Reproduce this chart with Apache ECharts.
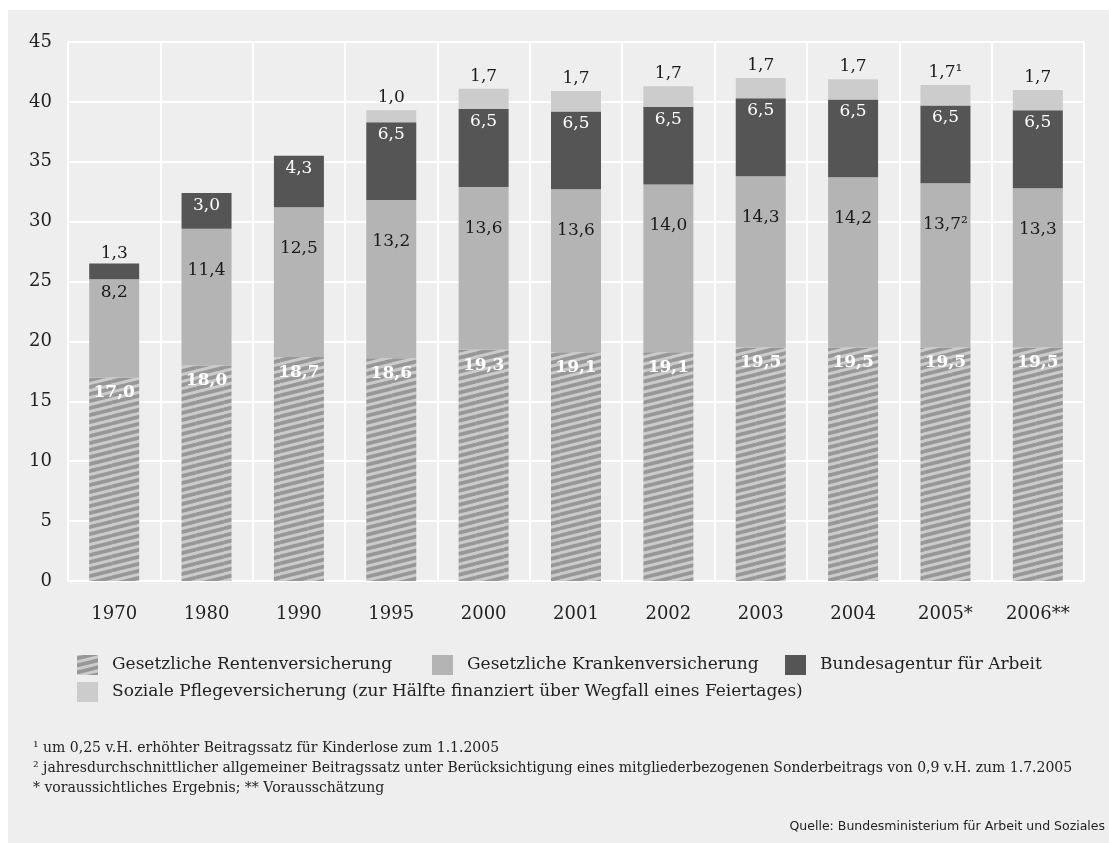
<!DOCTYPE html>
<html>
<head>
<meta charset="utf-8">
<script src="https://cdn.jsdelivr.net/npm/echarts@6/dist/echarts.min.js"></script>
<style>
html,body{margin:0;padding:0;background:#fff;}
#chart{width:1109px;height:843px;}
</style>
</head>
<body>
<div id="chart"></div>
<script>
const categories = ['1970','1980','1990','1995','2000','2001','2002','2003','2004','2005*','2006**'];
const renten  = [17.0, 18.0, 18.7, 18.6, 19.3, 19.1, 19.1, 19.5, 19.5, 19.5, 19.5];
const kranken = [8.2, 11.4, 12.5, 13.2, 13.6, 13.6, 14.0, 14.3, 14.2, 13.7, 13.3];
const arbeit  = [1.3, 3.0, 4.3, 6.5, 6.5, 6.5, 6.5, 6.5, 6.5, 6.5, 6.5];
const pflege  = [null, null, null, 1.0, 1.7, 1.7, 1.7, 1.7, 1.7, 1.7, 1.7];
const krankenNotes = ['', '', '', '', '', '', '', '', '', '²', ''];
const pflegeNotes  = ['', '', '', '', '', '', '', '', '', '¹', ''];
const seriesNames = [
  'Gesetzliche Rentenversicherung',
  'Gesetzliche Krankenversicherung',
  'Bundesagentur für Arbeit',
  'Soziale Pflegeversicherung (zur Hälfte finanziert über Wegfall eines Feiertages)'
];
const footnotes = [
  '¹ um 0,25 v.H. erhöhter Beitragssatz für Kinderlose zum 1.1.2005',
  '² jahresdurchschnittlicher allgemeiner Beitragssatz unter Berücksichtigung eines mitgliederbezogenen Sonderbeitrags von 0,9 v.H. zum 1.7.2005',
  '* voraussichtliches Ergebnis; ** Vorausschätzung'
];
const sourceText = 'Quelle: Bundesministerium für Arbeit und Soziales';

function fmt(v){ return v.toFixed(1).replace('.', ','); }

// hatch pattern
const pc = document.createElement('canvas');
pc.width = 28; pc.height = 7;
const g = pc.getContext('2d');
g.fillStyle = '#cbcbcb';
g.fillRect(0,0,28,7);
g.strokeStyle = '#979797';
g.lineWidth = 3.8;
for (let k = -2; k <= 3; k++) {
  g.beginPath();
  g.moveTo(0, k*7 + 3.5);
  g.lineTo(28, k*7 - 3.5);
  g.stroke();
}
const hatch = {image: pc, repeat: 'repeat'};

const serif = 'DejaVu Serif';
const chart = echarts.init(document.getElementById('chart'));

const common = {type:'bar', stack:'total', barWidth:50};

chart.setOption({
  backgroundColor:'#ffffff',
  animation:false,
  graphic:[
    {type:'rect', left:8, top:10, shape:{width:1101, height:833}, style:{fill:'#eeeeee'}, z:-10},
    {type:'text', left:33, top:741, style:{text:footnotes[0], font:'14px "DejaVu Serif"', fill:'#222'}},
    {type:'text', left:33, top:761, style:{text:footnotes[1], font:'14px "DejaVu Serif"', fill:'#222'}},
    {type:'text', left:33, top:781, style:{text:footnotes[2], font:'14px "DejaVu Serif"', fill:'#222'}},
    {type:'text', right:4, top:820, style:{text:sourceText, font:'12.5px "DejaVu Sans"', fill:'#222'}}
  ],
  grid:{left:68, right:25, top:42, bottom:262},
  legend:[0,1,2,3].map(i => ({
    data:[seriesNames[i]],
    left:[77,432,785,77][i],
    top:[655,655,655,682][i],
    padding:0,
    itemWidth:21, itemHeight:20, itemGap:14,
    icon:'rect',
    textStyle:{fontFamily:serif, fontSize:17, color:'#222', padding:[0,0,0,9]},
    selectedMode:false
  })),
  xAxis:{
    type:'category', data:categories,
    axisLine:{show:true, lineStyle:{color:'#ffffff', width:2}},
    axisTick:{show:false},
    splitLine:{show:true, lineStyle:{color:'#ffffff', width:2}},
    axisLabel:{fontFamily:serif, fontSize:18, color:'#222', margin:24}
  },
  yAxis:{
    type:'value', min:0, max:45, interval:5,
    axisLine:{show:false}, axisTick:{show:false},
    splitLine:{lineStyle:{color:'#ffffff', width:2}},
    axisLabel:{fontFamily:serif, fontSize:18, color:'#222', margin:16}
  },
  series:[
    Object.assign({}, common, {
      name:seriesNames[0], data:renten,
      itemStyle:{color:hatch},
      label:{show:true, position:'insideTop', distance:7, color:'#ffffff', fontFamily:serif, fontSize:17, fontWeight:'bold',
        formatter:p => fmt(p.value)}
    }),
    Object.assign({}, common, {
      name:seriesNames[1],
      data:kranken.map(v => v < 10 ? {value:v, label:{distance:5}} : v),
      itemStyle:{color:'#b4b4b4'},
      label:{show:true, position:'insideTop', distance:33, color:'#1a1a1a', fontFamily:serif, fontSize:17,
        formatter:p => fmt(p.value) + krankenNotes[p.dataIndex]}
    }),
    Object.assign({}, common, {
      name:seriesNames[2],
      data:arbeit.map(v => v < 2 ? {value:v, label:{position:'top', distance:2, color:'#1a1a1a'}} : v),
      itemStyle:{color:'#555555'},
      label:{show:true, position:'insideTop', distance:4, color:'#ffffff', fontFamily:serif, fontSize:17,
        formatter:p => fmt(p.value)}
    }),
    Object.assign({}, common, {
      name:seriesNames[3], data:pflege,
      itemStyle:{color:'#cccccc'},
      label:{show:true, position:'top', distance:4, color:'#1a1a1a', fontFamily:serif, fontSize:17,
        formatter:p => fmt(p.value) + pflegeNotes[p.dataIndex]}
    })
  ]
});
</script>
</body>
</html>
